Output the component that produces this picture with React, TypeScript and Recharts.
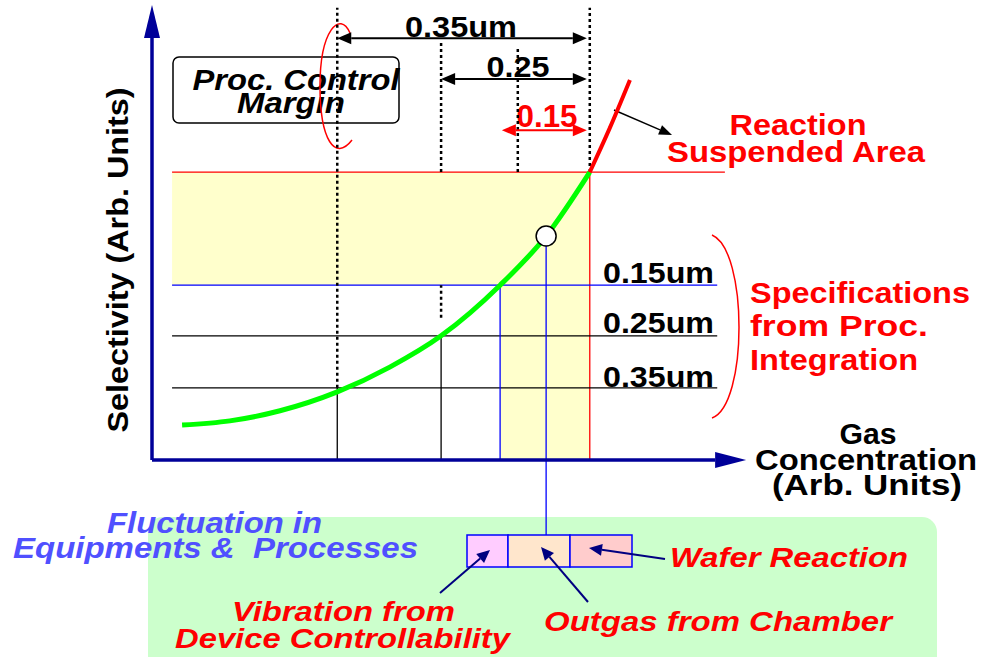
import React from "react"
import {
  ComposedChart,
  Line,
  XAxis,
  YAxis,
  ReferenceLine,
  ReferenceArea,
  ReferenceDot,
} from "recharts"

// selectivity curve (arb. units, gas 0-100, selectivity 0-100)
const gas = [5.1, 13.2, 21.7, 31.4, 40.3, 49.0, 59.0, 66.8, 74.2]
const selectivity = [7.6, 8.5, 10.7, 14.8, 20.2, 27.0, 38.0, 48.7, 62.6]
const gasSuspended = [74.2, 77.6, 81.0]
const selectivitySuspended = [62.6, 72.2, 82.6]

// spec levels from process integration
const specNodes = ["0.15um", "0.25um", "0.35um"]
const specSelectivity = [38.0, 27.0, 15.7]
const specGas = [59.0, 49.0, 31.4]
const specColors = ["#0000ff", "#000000", "#000000"]

// process control margins
const marginLabels = ["0.35um", "0.25", "0.15"]
const marginFrom = [31.4, 49.0, 59.3]
const marginLevel = [91.7, 82.8, 71.7]
const marginTo = 73.7
const marginColors = ["#000000", "#000000", "#ff0000"]
// dotted guides (the 0.25 one is hidden behind the yellow band)
const dottedGas = [31.4, 49.0, 49.0, 62.0, 74.2]
const dottedTop = [98.3, 91.3, 38.0, 89.6, 98.3]
const dottedBottom = [15.7, 62.6, 30.9, 62.6, 62.6]

// reaction suspended limit and operating point
const limitGas = 74.2
const limitSelectivity = 62.6
const operatingGas = 66.8
const operatingSelectivity = 48.7
const lineStart = 3.4
const limitEnd = 97.1
const specEnd = 95.8
const boxTop = -16.3

const greenCurve = gas.map((x, i) => ({ x, y: selectivity[i] }))
const redCurve = gasSuspended.map((x, i) => ({ x, y: selectivitySuspended[i] }))

const FONT = "'Liberation Sans', Arial, sans-serif"

function arrowShape(color: string, width: number, both: boolean, head = 13, half = 6) {
  return (p: any) => {
    const { x1, y1, x2, y2 } = p
    const dx = x2 - x1
    const dy = y2 - y1
    const len = Math.hypot(dx, dy) || 1
    const ux = dx / len
    const uy = dy / len
    const bx = x2 - ux * head
    const by = y2 - uy * head
    const sx = both ? x1 + ux * head : x1
    const sy = both ? y1 + uy * head : y1
    return (
      <g>
        <line x1={sx} y1={sy} x2={bx} y2={by} stroke={color} strokeWidth={width} />
        <polygon
          points={`${x2},${y2} ${bx - uy * half},${by + ux * half} ${bx + uy * half},${by - ux * half}`}
          fill={color}
        />
        {both && (
          <polygon
            points={`${x1},${y1} ${sx - uy * half},${sy + ux * half} ${sx + uy * half},${sy - ux * half}`}
            fill={color}
          />
        )}
      </g>
    )
  }
}

function Arrow({ x1, y1, x2, y2, color, head = 13, half = 6, width = 2 }: any) {
  return arrowShape(color, width, false, head, half)({ x1, y1, x2, y2 })
}

// bold label, stretched to the width it has in the drawing
function T({ x, y, w, children, size = 29, color = "#000", italic = false, anchor = "middle", ...rest }: any) {
  return (
    <text
      x={x}
      y={y}
      fill={color}
      fontSize={size}
      fontFamily={FONT}
      fontWeight="bold"
      fontStyle={italic ? "italic" : "normal"}
      textAnchor={anchor}
      textLength={w}
      lengthAdjust="spacingAndGlyphs"
      {...rest}
    >
      {children}
    </text>
  )
}

export default function App() {
  return (
    <div style={{ position: "absolute", left: 0, top: 0, background: "#fff" }}>
      <ComposedChart
        width={983}
        height={657}
        margin={{ top: 0, right: 241, bottom: 197, left: 152 }}
      >
        <XAxis type="number" dataKey="x" domain={[0, 100]} allowDataOverflow hide />
        <YAxis type="number" dataKey="y" domain={[0, 100]} allowDataOverflow hide />

        {/* fluctuation background */}
        <rect x={148} y={517} width={789} height={160} rx={15} fill="#ccffcc" />

        <ReferenceArea
          x1={lineStart}
          x2={limitGas}
          y1={specSelectivity[0]}
          y2={limitSelectivity}
          fill="#ffffcc"
          fillOpacity={1}
          stroke="none"
          ifOverflow="visible"
        />
        <ReferenceArea
          x1={specGas[0]}
          x2={limitGas}
          y1={0}
          y2={specSelectivity[0]}
          fill="#ffffcc"
          fillOpacity={1}
          stroke="none"
          ifOverflow="visible"
        />

        {/* limit lines */}
        <ReferenceLine
          segment={[{ x: lineStart, y: limitSelectivity }, { x: limitEnd, y: limitSelectivity }]}
          stroke="#ff0000"
          strokeWidth={1.3}
          ifOverflow="visible"
        />
        <ReferenceLine
          segment={[{ x: limitGas, y: 0 }, { x: limitGas, y: limitSelectivity }]}
          stroke="#ff0000"
          strokeWidth={1.3}
          ifOverflow="visible"
        />

        {specNodes.map((n, i) => (
          <ReferenceLine
            key={"h" + n}
            segment={[{ x: lineStart, y: specSelectivity[i] }, { x: specEnd, y: specSelectivity[i] }]}
            stroke={specColors[i]}
            strokeWidth={1.3}
            ifOverflow="visible"
          />
        ))}
        {specNodes.map((n, i) => (
          <ReferenceLine
            key={"v" + n}
            segment={[{ x: specGas[i], y: 0 }, { x: specGas[i], y: specSelectivity[i] }]}
            stroke={specColors[i]}
            strokeWidth={1.3}
            ifOverflow="visible"
          />
        ))}

        {dottedGas.map((g, i) => (
          <ReferenceLine
            key={"d" + i}
            segment={[{ x: g, y: dottedBottom[i] }, { x: g, y: dottedTop[i] }]}
            stroke="#000"
            strokeWidth={2.5}
            strokeDasharray="3 3"
            ifOverflow="visible"
          />
        ))}

        {marginLabels.map((m, i) => (
          <ReferenceLine
            key={"m" + m}
            segment={[{ x: marginFrom[i], y: marginLevel[i] }, { x: marginTo, y: marginLevel[i] }]}
            shape={arrowShape(marginColors[i], 2, true, 14, 6)}
            ifOverflow="visible"
          />
        ))}

        {/* operating point to fluctuation boxes */}
        <ReferenceLine
          segment={[{ x: operatingGas, y: operatingSelectivity }, { x: operatingGas, y: boxTop }]}
          stroke="#0000ff"
          strokeWidth={1.3}
          ifOverflow="visible"
        />

        {/* axes */}
        <ReferenceLine
          segment={[{ x: 0, y: 0 }, { x: 0, y: 98.9 }]}
          shape={arrowShape("#000099", 3.5, false, 33, 8)}
          ifOverflow="visible"
        />
        <ReferenceLine
          segment={[{ x: 0, y: 0 }, { x: 100.7, y: 0 }]}
          shape={arrowShape("#000099", 3.5, false, 31, 8)}
          ifOverflow="visible"
        />

        <Line
          data={greenCurve}
          dataKey="y"
          type="monotone"
          stroke="#00ff00"
          strokeWidth={5}
          dot={false}
          isAnimationActive={false}
        />
        <Line
          data={redCurve}
          dataKey="y"
          type="monotone"
          stroke="#ff0000"
          strokeWidth={4}
          dot={false}
          isAnimationActive={false}
        />
        <ReferenceDot
          x={operatingGas}
          y={operatingSelectivity}
          r={10}
          fill="#ffffff"
          stroke="#000"
          strokeWidth={1.5}
          ifOverflow="visible"
        />

        {/* annotations */}
        <T x={461} y={37} w={112} size={30}>{marginLabels[0]}</T>
        <T x={518} y={77} w={63} size={30}>{marginLabels[1]}</T>
        <T x={547} y={127} w={61} size={31} color="#ff0000">{marginLabels[2]}</T>

        <rect x={173} y={57} width={226} height={66} rx={6} fill="#fff" stroke="#000" strokeWidth={1.5} />
        <T x={296} y={90} w={207} size={29} italic>Proc. Control</T>
        <T x={291} y={113} w={108} size={29} italic>Margin</T>
        <path d="M 350 33 C 340 10, 320 30, 320 86 C 320 140, 335 162, 352 140" fill="none" stroke="#ff0000" strokeWidth={1.5} />

        <T x={798} y={135} w={137} size={29} color="#ff0000">Reaction</T>
        <T x={796} y={162} w={258} size={29} color="#ff0000">Suspended Area</T>
        <Arrow x1={614} y1={110} x2={672} y2={135} color="#000" head={13} half={5} width={1.5} />

        {specNodes.map((n, i) => (
          <T key={"l" + n} x={714} y={[283, 333, 387][i]} w={111} size={30} anchor="end">{n}</T>
        ))}
        <path d="M 712 235 C 748 250, 748 405, 712 418" fill="none" stroke="#ff0000" strokeWidth={1.5} />
        <T x={750} y={303} w={220} size={30} color="#ff0000" anchor="start">Specifications</T>
        <T x={750} y={336} w={178} size={30} color="#ff0000" anchor="start">from Proc.</T>
        <T x={750} y={370} w={168} size={30} color="#ff0000" anchor="start">Integration</T>

        <T x={868} y={444} w={57} size={29}>Gas</T>
        <T x={866} y={470} w={222} size={29}>Concentration</T>
        <T x={867} y={495} w={190} size={29}>(Arb. Units)</T>

        <T x={128} y={260} w={345} size={30} transform="rotate(-90 128 260)">Selectivity (Arb. Units)</T>

        <T x={107} y={533} w={215} size={29} color="#5050ff" italic anchor="start">Fluctuation in</T>
        <T x={13} y={558} w={405} size={29} color="#5050ff" italic anchor="start">{"Equipments &\u00a0 Processes"}</T>

        <rect x={467} y={535} width={41} height={32} fill="#ffccff" stroke="#0000ff" strokeWidth={1.5} />
        <rect x={508} y={535} width={62} height={32} fill="#ffe6cc" stroke="#0000ff" strokeWidth={1.5} />
        <rect x={570} y={535} width={62} height={32} fill="#ffcccc" stroke="#0000ff" strokeWidth={1.5} />

        <Arrow x1={665} y1={559} x2={589} y2={548} color="#000080" />
        <Arrow x1={440} y1={593} x2={490} y2={550} color="#000080" />
        <Arrow x1={588} y1={602} x2={541} y2={547} color="#000080" />

        <T x={670} y={567} w={238} size={28} color="#ff0000" italic anchor="start">Wafer Reaction</T>
        <T x={232} y={621} w={223} size={28} color="#ff0000" italic anchor="start">Vibration from</T>
        <T x={175} y={648} w={335} size={28} color="#ff0000" italic anchor="start">Device Controllability</T>
        <T x={544} y={631} w={348} size={28} color="#ff0000" italic anchor="start">Outgas from Chamber</T>
      </ComposedChart>
    </div>
  )
}
